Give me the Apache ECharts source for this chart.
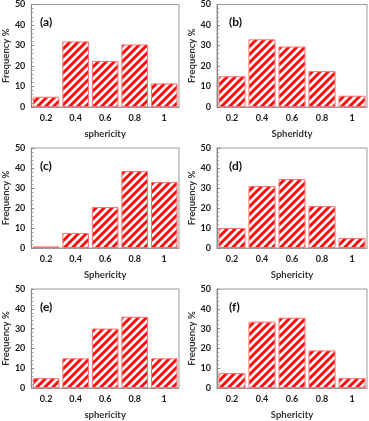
<!DOCTYPE html>
<html>
<head>
<meta charset="utf-8">
<script src="https://cdn.jsdelivr.net/npm/echarts@6/dist/echarts.min.js"></script>
<style>
  html, body { margin: 0; padding: 0; background: #fff; }
  #chart { width: 369px; height: 421px; }
</style>
</head>
<body>
<div id="chart"></div>
<script>
// data
const categories = ["0.2", "0.4", "0.6", "0.8", "1"];
const valuesA = [5, 32, 22.5, 30.5, 11.5];
const valuesB = [15, 33, 29.5, 17.5, 5.5];
const valuesC = [0.8, 7.5, 20.5, 38.5, 33];
const valuesD = [10, 31, 34.5, 21, 5];
const valuesE = [5, 15, 30, 36, 15];
const valuesF = [7.5, 33.5, 35.5, 19, 5];
const panelLabels = ["(a)", "(b)", "(c)", "(d)", "(e)", "(f)"];
const xNames = ["sphericity", "Spheridty", "Sphericity", "Sphericity", "sphericity", "Sphericity"];
const yTicks = [0, 10, 20, 30, 40, 50];

const allValues = [valuesA, valuesB, valuesC, valuesD, valuesE, valuesF];

// hatch pattern: red "/" stripes on white
const makeHatch = () => {
  const s = 8;
  const c = document.createElement("canvas");
  c.width = s;
  c.height = s;
  const ctx = c.getContext("2d");
  ctx.fillStyle = "#fff";
  ctx.fillRect(0, 0, s, s);
  ctx.strokeStyle = "#ff0a0a";
  ctx.lineWidth = 2.9;
  ctx.lineCap = "square";
  [-s, 0, s].forEach(off => {
    ctx.beginPath();
    ctx.moveTo(off - 2, s + 2);
    ctx.lineTo(off + s + 2, -2);
    ctx.stroke();
  });
  return c;
};
const hatch = makeHatch();

// panel boxes
const cols = [{ left: 28, width: 151 }, { left: 217, width: 150 }];
const rows = [{ top: 4, height: 103 }, { top: 148, height: 100 }, { top: 289, height: 102 }];

const font = "Lato";
const grids = [], xAxes = [], yAxes = [], series = [], titles = [];

allValues.forEach((vals, i) => {
  const col = cols[i % 2];
  const row = rows[Math.floor(i / 2)];
  grids.push({
    left: col.left, top: row.top, width: col.width, height: row.height,
    show: true, borderColor: "#999", borderWidth: 1, backgroundColor: "transparent"
  });
  xAxes.push({
    type: "category", gridIndex: i, data: categories,
    name: xNames[i], nameLocation: "middle", nameGap: 22,
    nameTextStyle: { fontFamily: font, fontWeight: "bold", fontSize: 9.5, color: "#333" },
    axisLine: { lineStyle: { color: "#999" } },
    axisTick: { show: false },
    axisLabel: { fontFamily: font, fontWeight: "bold", fontSize: 9, color: "#1a1a1a", margin: 7 }
  });
  yAxes.push({
    type: "value", gridIndex: i, min: yTicks[0], max: yTicks[yTicks.length - 1], interval: 10,
    name: "Frequency %", nameLocation: "middle", nameGap: 16,
    nameTextStyle: { fontFamily: font, fontWeight: "bold", fontSize: 9.5, color: "#333" },
    axisLine: { show: true, lineStyle: { color: "#888" } },
    axisTick: { show: true, inside: true, length: 3, lineStyle: { color: "#888" } },
    minorTick: { show: true, splitNumber: 5, length: 2, lineStyle: { color: "#999" } },
    splitLine: { show: false },
    axisLabel: { fontFamily: font, fontWeight: "bold", fontSize: 9, color: "#1a1a1a", margin: 6 }
  });
  series.push({
    type: "bar", xAxisIndex: i, yAxisIndex: i, data: vals,
    barCategoryGap: "10%",
    itemStyle: {
      color: { image: hatch, repeat: "repeat" },
      borderColor: "#ff7070", borderWidth: 1
    },
    silent: true
  });
  titles.push({
    text: panelLabels[i], left: col.left + 7, top: row.top + 7,
    textStyle: { fontFamily: font, fontWeight: "bold", fontSize: 12, color: "#111" }
  });
});

const chart = echarts.init(document.getElementById("chart"), null, { renderer: "canvas" });
chart.setOption({
  animation: false,
  backgroundColor: "#fff",
  title: titles,
  grid: grids,
  xAxis: xAxes,
  yAxis: yAxes,
  series: series
});
</script>
</body>
</html>
